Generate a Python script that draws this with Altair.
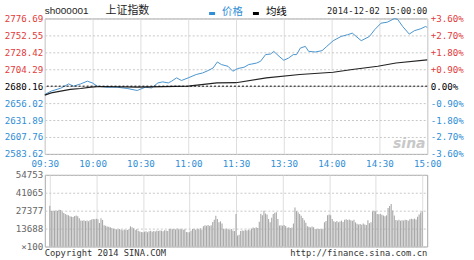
import altair as alt
import pandas as pd

# ---------------- data ----------------
prev_close = 2680.16

price_minutes = [0, 4, 10, 15, 18, 22.5, 26.7, 29.8, 33, 39,
                 45.4, 51.7, 58, 63, 67, 71, 74, 77.5, 79.6, 82.7,
                 85.8, 90, 95, 99, 102.5, 105.6, 108.3, 110.8, 115, 118,
                 121, 125, 128, 130, 133, 135.4, 138.6, 141.7, 143.7, 147,
                 150, 153, 156, 158, 160.4, 163.5, 165.6, 169.8, 174, 177,
                 181, 186, 190, 193, 198.6, 203.75, 207, 211, 215, 219.4,
                 221.4, 224.6, 228.75, 231.9, 236, 239, 240]
price_values = [2668.4, 2673.1, 2677.3, 2683.4, 2680.2, 2683.4, 2687.3, 2684.8, 2680.2, 2678.7,
                2678.7, 2676.9, 2674.0, 2678.7, 2677.7, 2684.8, 2686.3, 2684.8, 2687.3, 2692.0,
                2688.3, 2692.0, 2696.8, 2699.0, 2702.4, 2706.1, 2714.7, 2711.0, 2708.5, 2701.5,
                2705.3, 2707.1, 2711.0, 2711.8, 2713.2, 2715.7, 2725.2, 2726.0, 2729.8, 2722.8,
                2717.1, 2720.3, 2725.2, 2725.2, 2734.5, 2736.9, 2729.8, 2728.9, 2730.8, 2736.9,
                2745.0, 2751.1, 2753.5, 2755.8, 2745.0, 2751.1, 2760.6, 2770.0, 2771.4, 2776.5,
                2775.5, 2765.3, 2754.4, 2759.2, 2762.1, 2765.3, 2764.0]

avg_minutes = [0, 4, 10, 16, 22.5, 29, 35, 58, 90, 102.5, 108, 120, 139, 160, 181, 193, 209, 220.4, 240]
avg_values = [2667.4, 2670.6, 2673.1, 2675.5, 2676.9, 2678.7, 2679.7, 2678.7, 2680.2, 2683.4,
              2684.8, 2685.1, 2691.9, 2696.8, 2700.0, 2703.9, 2708.6, 2713.2, 2717.8]

volume_values = [
    31200, 27300, 27400, 27100, 27600, 27200, 28000, 27800, 26500, 25600,
    24800, 24200, 23900, 23100, 22800, 22500, 23300, 23600, 23200, 21500,
    19900, 19700, 20100, 19500, 19800, 19300, 20200, 20600, 21000, 20800,
    21200, 20900, 18000, 21600, 20300, 16200, 15800, 15300, 15000, 14800,
    14200, 13600, 13300, 13100, 12900, 13400, 12800, 12500, 13000, 12700,
    12600, 13100, 15400, 14800, 13900, 12600, 13200, 12100, 11400, 11000,
    10800, 11300, 11700, 10900, 11600, 12000, 11200, 11900, 11400, 12200,
    11800, 12300, 12100, 11700, 12500, 12200, 11900, 13300, 13600, 13100,
    13400, 13000, 13700, 12900, 13500, 13200, 12800, 13100, 11000, 10800,
    10900, 12100, 13300, 13500, 12800, 13600, 13200, 13900, 12700, 15500,
    16200, 15800, 16500, 15600, 16300, 18800, 20500, 23500, 21000, 18600,
    19200, 17500, 13600, 12900, 13800, 13200, 12600, 13400, 12200, 11800,
    24800, 8400, 8900, 11800, 12300, 12000, 12600, 12200, 12800, 12500,
    13700, 14500, 13900, 14800, 14200, 19000, 25000, 23800, 27400, 25200,
    24500, 21000, 18500, 22000, 24800, 25800, 26200, 21000, 16000, 16200,
    15800, 16400, 15600, 14300, 14800, 14100, 14600, 17500, 29800, 27000,
    26200, 24800, 23500, 21800, 20000, 18200, 15400, 15000, 14600, 15300,
    14700, 13400, 13200, 13600, 13300, 13100, 13500, 18500, 19500, 23800,
    24500, 23900, 21000, 19200, 18800, 19400, 18600, 19100, 19800, 18700,
    20400, 20900, 20200, 20700, 20100, 19600, 20500, 18400, 17300, 16800,
    17200, 16600, 17500, 16900, 16400, 20100, 17800, 18600, 26800, 27300,
    27000, 24900, 24600, 25000, 24300, 23700, 23200, 23800, 29500, 31000,
    32400, 27500, 23600, 20300, 19800, 20500, 19700, 20100, 19900, 20400,
    20200, 19600, 20800, 21200, 20900, 21300, 20700, 22800, 24500, 26000, 27000,
]

price_ticks = [2583.62, 2607.76, 2631.89, 2656.02, 2680.16, 2704.29, 2728.42, 2752.55, 2776.69]
pct_labels = ["-3.60%", "-2.70%", "-1.80%", "-0.90%", "0.00%", "+0.90%", "+1.80%", "+2.70%", "+3.60%"]
time_ticks = [0, 30, 60, 90, 120, 150, 180, 210, 240]
time_labels = ["09:30", "10:00", "10:30", "11:00", "11:30", "13:30", "14:00", "14:30", "15:00"]
vol_ticks = [0, 13688, 27377, 41065, 54753]
vol_labels = ["×100", "13688", "27377", "41065", "54753"]

code_text = "sh000001"
name_text = "上证指数"
legend_price = "价格"
legend_avg = "均线"
date_text = "2014-12-02 15:00:00"
copyright_text = "Copyright 2014 SINA.COM"
url_text = "http://finance.sina.com.cn"
watermark_text = "sina"

# ---------------- style ----------------
W, H1, H2 = 384, 136, 72
RED = "#e23b3b"
BLUE = "#2f8ed6"
LINE_BLUE = "#4a94cf"
MONO = "DejaVu Sans Mono"
FS = 9.2

df_price = pd.DataFrame({"m": price_minutes, "p": price_values})
df_avg = pd.DataFrame({"m": avg_minutes, "p": avg_values})
df_vol = pd.DataFrame({"m": list(range(len(volume_values))), "v": volume_values})
df_zero = pd.DataFrame({"p": [prev_close]})
one = pd.DataFrame({"a": [0]})

ydom = [price_ticks[0], price_ticks[-1]]
step = (price_ticks[-1] - price_ticks[0]) / 8


def yscale():
    return alt.Scale(domain=ydom, nice=False, zero=False)


xscale = alt.Scale(domain=[0, 240], nice=False, zero=False)

time_expr = "[" + ",".join("'%s'" % t for t in time_labels) + "][round(datum.value/30)]"
pct_expr = "[" + ",".join("'%s'" % t for t in pct_labels) + "][round((datum.value-%f)/%f)]" % (price_ticks[0], step)
vol_expr = "[" + ",".join("'%s'" % t for t in vol_labels) + "][round(datum.value/%f)]" % (vol_ticks[-1] / 4)
color_expr = "datum.value > %f ? '%s' : (datum.value < %f ? '%s' : '#000000')" % (
    prev_close + 0.01, RED, prev_close - 0.01, BLUE)

x_axis_top = alt.Axis(values=time_ticks, labelExpr=time_expr, labelColor=BLUE, labelFont=MONO,
                      labelFontSize=FS, grid=True, gridColor="#dedede", ticks=False, domain=False,
                      labelPadding=6, title=None, labelFlush=False)
left_axis = alt.Axis(values=price_ticks, format=".2f", labelColor=alt.expr(color_expr), labelFont=MONO,
                     labelFontSize=FS, grid=True, gridColor="#c8c8c8", gridDash=[2, 2], ticks=False,
                     domain=False, labelPadding=2, title=None, labelFlush=False)
right_axis = alt.Axis(orient="right", values=price_ticks, labelExpr=pct_expr, labelColor=alt.expr(color_expr),
                      labelFont=MONO, labelFontSize=FS, grid=False, ticks=False, domain=False,
                      labelPadding=3, title=None, labelFlush=False)

price_line = alt.Chart(df_price).mark_line(color=LINE_BLUE, strokeWidth=1).encode(
    x=alt.X("m:Q", scale=xscale, axis=x_axis_top),
    y=alt.Y("p:Q", scale=yscale(), axis=left_axis),
)
avg_line = alt.Chart(df_avg).mark_line(color="#222222", strokeWidth=1.2).encode(
    x=alt.X("m:Q", scale=xscale),
    y=alt.Y("p:Q", scale=yscale(), axis=None),
)
zero_rule = alt.Chart(df_zero).mark_rule(color="#000000", strokeDash=[2, 2], strokeWidth=1).encode(
    y=alt.Y("p:Q", scale=yscale(), axis=None),
)
right_layer = alt.Chart(df_price).mark_line(opacity=0).encode(
    x=alt.X("m:Q", scale=xscale),
    y=alt.Y("p:Q", scale=yscale(), axis=right_axis),
)


def marker(x, x2, y, y2):
    # tiny invisible rect fixing the outer bounds of the figure
    return alt.Chart(one).mark_rect(color="#ffffff", opacity=0).encode(
        x=alt.value(x), x2=alt.value(x2), y=alt.value(y), y2=alt.value(y2))


markers = [
    marker(-44, -43, 100, 101),   # left edge
    marker(200, 201, -17, -16),   # top edge
    marker(429, 430, 242, 243),   # right / bottom edge
]


def label(text, x, y, color, font, size, align="left", **kw):
    return alt.Chart(one).mark_text(text=text, align=align, baseline="middle", color=color,
                                    font=font, fontSize=size, **kw).encode(
        x=alt.value(x), y=alt.value(y))


header = [
    label(code_text, 0, -7, "#222222", "Liberation Sans", 10),
    label(name_text, 61, -7, "#222222", "Noto Sans CJK SC", 11),
    alt.Chart(one).mark_rule(color=BLUE, strokeWidth=3).encode(
        x=alt.value(165), x2=alt.value(171), y=alt.value(-5)),
    label(legend_price, 178, -6, BLUE, "Noto Sans CJK SC", 10.5),
    alt.Chart(one).mark_rule(color="#000000", strokeWidth=3).encode(
        x=alt.value(209), x2=alt.value(215), y=alt.value(-5)),
    label(legend_avg, 222, -6, "#000000", "Noto Sans CJK SC", 10.5),
    label(date_text, 384, -7, "#222222", MONO, 8.8, align="right"),
    label(watermark_text, 366, 126, "#c8c8c8", "DejaVu Sans", 14, align="center",
          fontStyle="italic", fontWeight="bold"),
]

top = alt.layer(*markers, price_line, avg_line, zero_rule, right_layer, *header).resolve_scale(
    y="independent").properties(width=W, height=H1)

vol_bars = alt.Chart(df_vol).mark_bar(width=1.1, color="#a8a8a8").encode(
    x=alt.X("m:Q", scale=xscale,
            axis=alt.Axis(values=time_ticks, labels=False, grid=True, gridColor="#dedede",
                          ticks=False, domain=False, title=None)),
    y=alt.Y("v:Q", scale=alt.Scale(domain=[0, vol_ticks[-1]], nice=False),
            axis=alt.Axis(values=vol_ticks, labelExpr=vol_expr, labelColor="#666666", labelFont=MONO,
                          labelFontSize=FS, grid=True, gridColor="#c8c8c8", gridDash=[2, 2], ticks=False,
                          domain=False, labelPadding=2, title=None, labelFlush=False)),
)
bottom_texts = [
    label(copyright_text, 0, 79, "#333333", MONO, 8.8),
    label(url_text, 384, 79, "#333333", MONO, 8.8, align="right"),
]
bottom = alt.layer(vol_bars, *bottom_texts).properties(width=W, height=H2)

chart = alt.vconcat(top, bottom, spacing=21, bounds="flush").properties(
    padding=0, background="#ffffff"
).configure_view(stroke="#a8a8a8")

chart.save("out.html", embed_options={"renderer": "svg", "actions": False})
